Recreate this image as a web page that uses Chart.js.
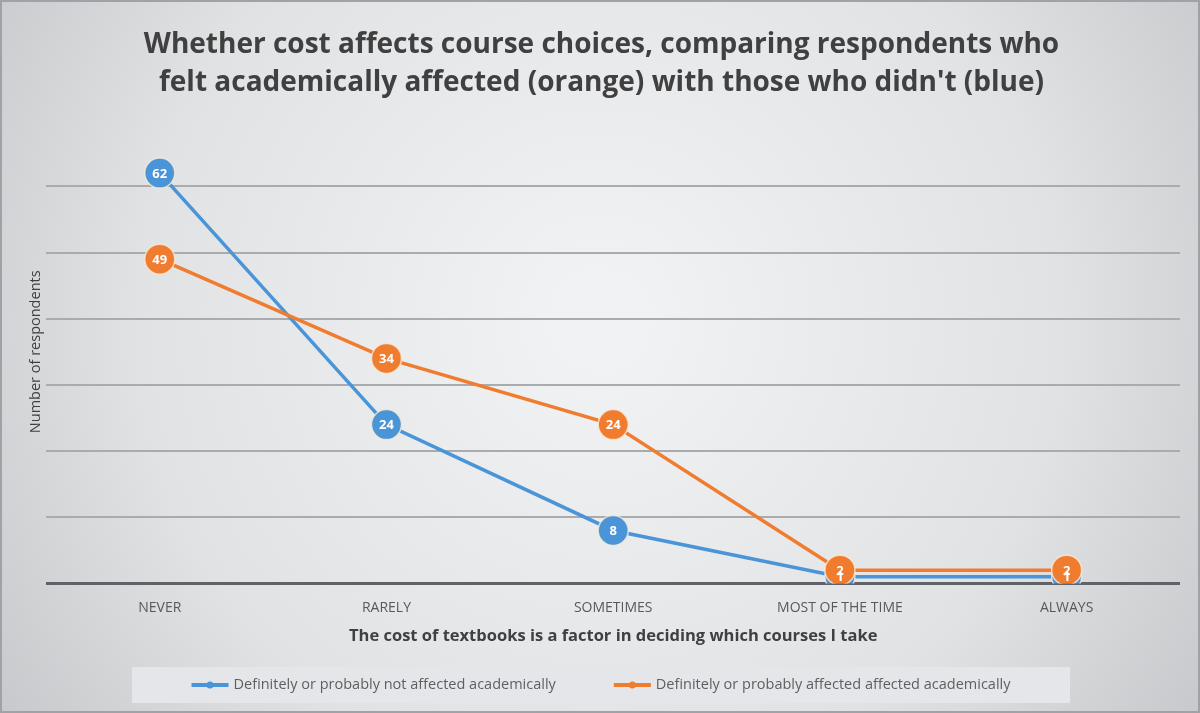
<!DOCTYPE html>
<html>
<head>
<meta charset="utf-8">
<script src="https://cdn.jsdelivr.net/npm/chart.js@4"></script>
<style>
html,body{margin:0;padding:0;background:#d6d8db}
#wrap{width:1200px;height:713px;position:relative}
</style>
</head>
<body>
<div id="wrap"><canvas id="myChart" width="1200" height="713"></canvas></div>
<script>
const categories=['NEVER','RARELY','SOMETIMES','MOST OF THE TIME','ALWAYS']
const notAffected=[62,24,8,1,1]
const affected=[49,34,24,2,2]
const blue='#4a94d8'
const orange='#f07c30'

// background gradient, frame and legend panel
const bgPlugin={
  id:'bg',
  beforeDraw(chart){
    const c=chart.ctx, w=chart.width, h=chart.height
    c.save()
    const g=c.createRadialGradient(w/2,h*0.45,40,w/2,h*0.45,w*0.62)
    g.addColorStop(0,'#f1f2f3')
    g.addColorStop(0.6,'#e0e2e4')
    g.addColorStop(1,'#c4c6c9')
    c.fillStyle=g
    c.fillRect(0,0,w,h)
    c.strokeStyle='#9fa2a6'
    c.lineWidth=2
    c.strokeRect(1,1,w-2,h-2)
    c.fillStyle='#e4e6e9'
    c.fillRect(132,667,938,36)
    c.restore()
  },
  afterDraw(chart){
    // legend drawn by hand so the spacing matches
    const c=chart.ctx
    const ds=chart.data.datasets
    const lineW=37, gap=5, between=58, cy=685
    c.save()
    c.font='14.5px "Open Sans"'
    c.textBaseline='middle'
    const widths=ds.map(d=>lineW+gap+c.measureText(d.label).width)
    const total=widths.reduce((a,b)=>a+b,0)+between*(ds.length-1)
    let x=601-total/2
    ds.forEach((d,i)=>{
      c.strokeStyle=d.borderColor
      c.fillStyle=d.borderColor
      c.lineWidth=4
      c.beginPath()
      c.moveTo(x,cy)
      c.lineTo(x+lineW,cy)
      c.stroke()
      c.beginPath()
      c.arc(x+lineW/2,cy,3.5,0,Math.PI*2)
      c.fill()
      c.fillStyle='#5f5f5f'
      c.fillText(d.label,x+lineW+gap,cy)
      x+=widths[i]+between
    })
    c.restore()
  }
}

// value labels inside markers
const labelPlugin={
  id:'vals',
  afterDatasetsDraw(chart){
    const c=chart.ctx
    c.save()
    c.font='bold 13px "Open Sans"'
    c.fillStyle='#ffffff'
    c.textAlign='center'
    c.textBaseline='middle'
    chart.data.datasets.forEach((ds,i)=>{
      chart.getDatasetMeta(i).data.forEach((pt,j)=>{
        c.fillText(ds.data[j],pt.x,pt.y+1)
      })
    })
    c.restore()
  }
}

const ctx=document.getElementById('myChart')
new Chart(ctx,{
  type:'line',
  data:{
    labels:categories,
    datasets:[{
      label:'Definitely or probably not affected academically',
      data:notAffected,
      borderColor:blue,
      backgroundColor:blue,
      borderWidth:3.5,
      pointRadius:15,
      pointHoverRadius:15,
      pointBorderColor:'rgba(250,235,215,0.8)',
      pointBorderWidth:1.5,
      order:2
    },{
      label:'Definitely or probably affected affected academically',
      data:affected,
      borderColor:orange,
      backgroundColor:orange,
      borderWidth:3.5,
      pointRadius:15,
      pointHoverRadius:15,
      pointBorderColor:'rgba(250,235,215,0.8)',
      pointBorderWidth:1.5,
      order:1
    }]
  },
  options:{
    responsive:false,
    animation:false,
    layout:{padding:{left:23,right:20,bottom:67}},
    plugins:{
      title:{
        display:true,
        text:['Whether cost affects course choices, comparing respondents who',"felt academically affected (orange) with those who didn't (blue)"],
        color:'#404040',
        font:{family:'"Open Sans"',size:28,weight:'bold',lineHeight:1.36},
        padding:{top:26,bottom:18}
      },
      legend:{display:false},
      tooltip:{enabled:false}
    },
    scales:{
      x:{
        offset:true,
        grid:{display:false},
        border:{display:false},
        ticks:{color:'#595959',font:{family:'"Open Sans"',size:14},padding:8},
        title:{
          display:true,
          text:'The cost of textbooks is a factor in deciding which courses I take',
          color:'#404040',
          font:{family:'"Open Sans"',size:16.5,weight:'bold'},
          padding:{top:2,bottom:0}
        }
      },
      y:{
        min:0,
        max:70,
        ticks:{display:false,stepSize:10},
        border:{display:false},
        grid:{
          drawTicks:false,
          lineWidth:ctx=>ctx.tick.value===0?3:2,
          color:ctx=>ctx.tick.value===70?'rgba(0,0,0,0)':(ctx.tick.value===0?'#5f6266':'#a9abae')
        },
        title:{
          display:true,
          text:'Number of respondents',
          color:'#404040',
          font:{family:'"Open Sans"',size:14.5},
          padding:{bottom:2}
        }
      }
    }
  },
  plugins:[bgPlugin,labelPlugin]
})
</script>
</body>
</html>
